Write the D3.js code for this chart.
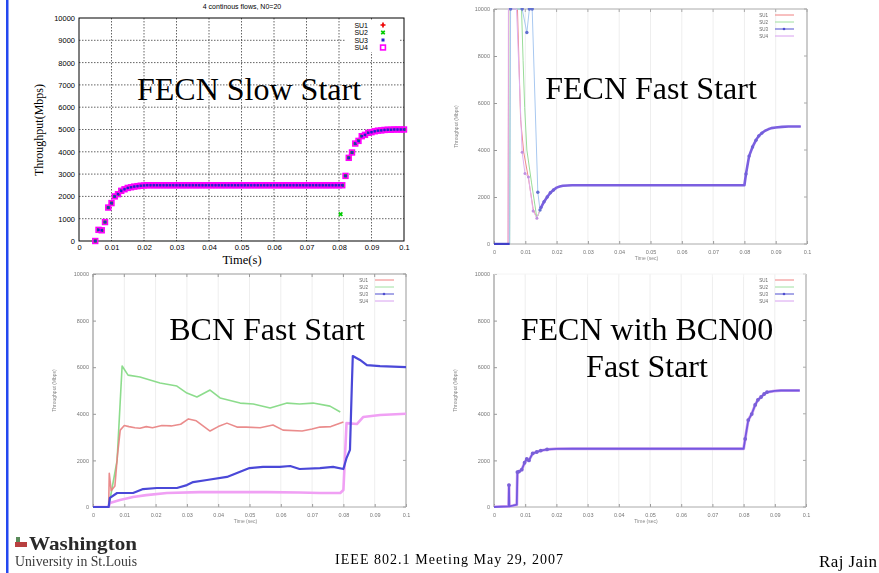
<!DOCTYPE html>
<html>
<head>
<meta charset="utf-8">
<script src="https://cdn.jsdelivr.net/npm/d3@7"></script>
<style>
  body { margin: 0; background: #fff; }
  svg { display: block; }
</style>
</head>
<body>
<div id="main"></div>
<script>
const ctx = {
    WIDTH: 879,
    HEIGHT: 573,
};

// ---- data ----
const xTicks = [0, 0.01, 0.02, 0.03, 0.04, 0.05, 0.06, 0.07, 0.08, 0.09, 0.1];
const xTickLabels = ["0", "0.01", "0.02", "0.03", "0.04", "0.05", "0.06", "0.07", "0.08", "0.09", "0.1"];
const yTicksSlow = [0, 1000, 2000, 3000, 4000, 5000, 6000, 7000, 8000, 9000, 10000];
const yTicksFast = [0, 2000, 4000, 6000, 8000, 10000];
const flowNames = ["SU1", "SU2", "SU3", "SU4"];

// FECN slow start, one sample per ms (SU3 and SU4 coincide)
const slowStart = [
    [0.005, 0], [0.006, 500], [0.007, 480], [0.008, 850], [0.009, 1500],
    [0.010, 1700], [0.011, 2000], [0.012, 2100], [0.013, 2250], [0.014, 2320],
    [0.015, 2380], [0.016, 2410], [0.017, 2440], [0.018, 2460], [0.019, 2480],
    [0.020, 2490], [0.021, 2500], [0.022, 2500], [0.023, 2500], [0.024, 2500],
    [0.025, 2500], [0.026, 2500], [0.027, 2500], [0.028, 2500], [0.029, 2500],
    [0.030, 2500], [0.031, 2500], [0.032, 2500], [0.033, 2500], [0.034, 2500],
    [0.035, 2500], [0.036, 2500], [0.037, 2500], [0.038, 2500], [0.039, 2500],
    [0.040, 2500], [0.041, 2500], [0.042, 2500], [0.043, 2500], [0.044, 2500],
    [0.045, 2500], [0.046, 2500], [0.047, 2500], [0.048, 2500], [0.049, 2500],
    [0.050, 2500], [0.051, 2500], [0.052, 2500], [0.053, 2500], [0.054, 2500],
    [0.055, 2500], [0.056, 2500], [0.057, 2500], [0.058, 2500], [0.059, 2500],
    [0.060, 2500], [0.061, 2500], [0.062, 2500], [0.063, 2500], [0.064, 2500],
    [0.065, 2500], [0.066, 2500], [0.067, 2500], [0.068, 2500], [0.069, 2500],
    [0.070, 2500], [0.071, 2500], [0.072, 2500], [0.073, 2500], [0.074, 2500],
    [0.075, 2500], [0.076, 2500], [0.077, 2500], [0.078, 2500], [0.079, 2500],
    [0.080, 2500], [0.081, 2500], [0.082, 2920], [0.083, 3730], [0.084, 3970],
    [0.085, 4370], [0.086, 4490], [0.087, 4700], [0.088, 4760], [0.089, 4850],
    [0.090, 4880], [0.091, 4920], [0.092, 4950], [0.093, 4960], [0.094, 4980],
    [0.095, 4990], [0.096, 4990], [0.097, 5000], [0.098, 5000], [0.099, 5000],
    [0.100, 5000]
];
const slowSU2Extra = [[0.0805, 1200]];

// FECN fast start: early transients per flow, then a common tail
const fastSU1 = [[0, 0], [0.0045, 0], [0.0047, 10000], [0.0075, 10000], [0.0085, 5300], [0.0095, 3900], [0.011, 2800], [0.0125, 1500], [0.0137, 1100]];
const fastSU2 = [[0, 0], [0.005, 0], [0.0052, 10000], [0.0088, 10000], [0.0093, 7800], [0.0098, 5800], [0.0105, 4000], [0.012, 2600], [0.0137, 1100]];
const fastSU3 = [[0, 0], [0.005, 0], [0.0053, 10000], [0.009, 10000], [0.0105, 9000], [0.0113, 10000], [0.0122, 10000], [0.014, 2200], [0.0147, 1450]];
const fastSU4 = [[0, 0], [0.0045, 0], [0.0046, 10000], [0.0072, 10000], [0.009, 3900], [0.0099, 3000], [0.011, 2850], [0.0125, 1400], [0.0137, 1100]];
const fastTail = [
    [0.015, 1550], [0.016, 1800], [0.017, 2000], [0.018, 2180], [0.019, 2300],
    [0.020, 2400], [0.021, 2450], [0.022, 2480], [0.025, 2500], [0.080, 2500],
    [0.0805, 2980], [0.0815, 3740], [0.0826, 4130], [0.0837, 4420], [0.0846, 4600],
    [0.0856, 4720], [0.0866, 4820], [0.0876, 4880], [0.0886, 4930], [0.090, 4960],
    [0.092, 4985], [0.094, 5000], [0.098, 5000]
];

// BCN fast start
const bcnSU1 = [
    [0, 0], [0.005, 0], [0.0052, 1450], [0.0058, 700], [0.007, 900], [0.0078, 2200],
    [0.0087, 3300], [0.010, 3500], [0.0115, 3450], [0.0134, 3400], [0.015, 3380],
    [0.017, 3450], [0.019, 3400], [0.022, 3500], [0.025, 3480], [0.028, 3550],
    [0.0305, 3780], [0.033, 3700], [0.0374, 3260], [0.040, 3450], [0.0428, 3600],
    [0.046, 3430], [0.049, 3430], [0.0534, 3400], [0.0575, 3520], [0.0607, 3300],
    [0.0668, 3260], [0.070, 3350], [0.0725, 3430], [0.076, 3450], [0.080, 3650]
];
const bcnSU2 = [
    [0, 0], [0.005, 0], [0.0077, 2000], [0.0093, 6050], [0.0112, 5660], [0.015, 5580],
    [0.0214, 5320], [0.0268, 5190], [0.030, 4890], [0.0332, 4720], [0.0374, 5020],
    [0.0406, 4680], [0.047, 4460], [0.0512, 4420], [0.0566, 4250], [0.062, 4460],
    [0.066, 4420], [0.0703, 4460], [0.0757, 4330], [0.079, 4080]
];
const bcnSU3 = [
    [0, 0], [0.005, 0], [0.0054, 390], [0.0077, 600], [0.0109, 600], [0.0128, 600],
    [0.016, 770], [0.0204, 815], [0.0268, 815], [0.030, 940], [0.032, 1070],
    [0.0364, 1160], [0.0428, 1290], [0.046, 1460], [0.050, 1670], [0.0543, 1720],
    [0.0597, 1720], [0.063, 1760], [0.066, 1630], [0.0725, 1670], [0.0767, 1720],
    [0.080, 1630], [0.081, 2100], [0.0821, 2450], [0.0827, 5240], [0.083, 6480],
    [0.0853, 6310], [0.0875, 6090], [0.0917, 6050], [0.100, 6000]
];
const bcnSU4 = [
    [0, 0], [0.005, 0], [0.0054, 170], [0.0086, 300], [0.0128, 430], [0.017, 510],
    [0.0236, 600], [0.034, 640], [0.0556, 640], [0.066, 620], [0.0725, 600],
    [0.079, 600], [0.080, 730], [0.081, 3600], [0.0843, 3560], [0.0863, 3860],
    [0.0917, 3950], [0.100, 4000]
];

// FECN with BCN00 fast start (all four flows coincide)
const bcn00Flow = [
    [0, 0], [0.0047, 30], [0.0048, 940], [0.0049, 30], [0.006, 60], [0.0073, 100],
    [0.0075, 1500], [0.008, 1520], [0.0089, 1600], [0.0098, 1900], [0.0105, 2060],
    [0.0112, 2000], [0.0124, 2300], [0.0137, 2360], [0.015, 2420], [0.017, 2470],
    [0.020, 2495], [0.025, 2500], [0.080, 2500], [0.0805, 2920], [0.0815, 3730],
    [0.0826, 3990], [0.0837, 4380], [0.0846, 4600], [0.0856, 4720], [0.0866, 4850],
    [0.0875, 4930], [0.090, 4980], [0.092, 5000], [0.098, 5000]
];

const panelTitles = [["FECN Slow Start"], ["FECN Fast Start"], ["BCN Fast Start"], ["FECN with BCN00", "Fast Start"]];

const SERIF = "'Liberation Serif', 'Times New Roman', serif";
const SANS = "'Liberation Sans', Arial, sans-serif";

function makeScales(box) {
    return {
        x: d3.scaleLinear().domain([0, 0.1]).range([box.x0, box.x1]),
        y: d3.scaleLinear().domain([0, 10000]).range([box.y1, box.y0]),
    };
}

function addClip(svg, id, box) {
    svg.select("defs").append("clipPath").attr("id", id)
        .append("rect")
        .attr("x", box.x0).attr("y", box.y0 - 1)
        .attr("width", box.x1 - box.x0).attr("height", box.y1 - box.y0 + 2);
}

function drawSlowPanel(svg) {
    const box = { x0: 79, x1: 404, y0: 18, y1: 241 };
    const s = makeScales(box);
    const g = svg.append("g").attr("id", "slowG");

    // dashed grid
    g.append("g").selectAll("line").data(xTicks.slice(1, -1)).enter().append("line")
        .attr("x1", d => s.x(d)).attr("x2", d => s.x(d))
        .attr("y1", box.y0).attr("y2", box.y1)
        .attr("stroke", "#222").attr("stroke-width", 0.7).attr("stroke-dasharray", "1.5,1.5");
    g.append("g").selectAll("line").data(yTicksSlow.slice(1, -1)).enter().append("line")
        .attr("x1", box.x0).attr("x2", box.x1)
        .attr("y1", d => s.y(d)).attr("y2", d => s.y(d))
        .attr("stroke", "#222").attr("stroke-width", 0.7).attr("stroke-dasharray", "1.5,1.5");

    // axes
    const xAxis = d3.axisBottom(s.x).tickValues(xTicks).tickSize(0).tickPadding(4)
        .tickFormat((d, i) => xTickLabels[i]);
    g.append("g").attr("transform", `translate(0,${box.y1})`).call(xAxis)
        .call(a => a.select(".domain").remove())
        .selectAll("text").attr("font-family", SANS).attr("font-size", 7.5).attr("fill", "#000");
    const yAxis = d3.axisLeft(s.y).tickValues(yTicksSlow).tickSize(0).tickPadding(4).tickFormat(d3.format("d"));
    g.append("g").attr("transform", `translate(${box.x0},0)`).call(yAxis)
        .call(a => a.select(".domain").remove())
        .selectAll("text").attr("font-family", SANS).attr("font-size", 7.5).attr("fill", "#000");

    g.append("rect").attr("x", box.x0).attr("y", box.y0)
        .attr("width", box.x1 - box.x0).attr("height", box.y1 - box.y0)
        .attr("fill", "none").attr("stroke", "#000").attr("stroke-width", 1);

    // labels
    g.append("text").attr("x", 242).attr("y", 9).attr("text-anchor", "middle")
        .attr("font-family", SANS).attr("font-size", 7).text("4 continous flows, N0=20");
    g.append("text").attr("x", 242).attr("y", 264).attr("text-anchor", "middle")
        .attr("font-family", SERIF).attr("font-size", 12.5).text("Time(s)");
    g.append("text").attr("transform", "translate(43,130) rotate(-90)").attr("text-anchor", "middle")
        .attr("font-family", SERIF).attr("font-size", 12).text("Throughput(Mbps)");

    // markers
    const plus = d3.symbol().type(d3.symbolCross).size(14);
    const marks = g.append("g");
    marks.selectAll(".su1").data(slowStart).enter().append("path")
        .attr("d", plus).attr("fill", "#e00")
        .attr("transform", d => `translate(${s.x(d[0])},${s.y(d[1])})`);
    marks.selectAll(".su2").data(slowStart.concat(slowSU2Extra)).enter().append("path")
        .attr("d", plus).attr("fill", "#0c0")
        .attr("transform", d => `translate(${s.x(d[0])},${s.y(d[1])}) rotate(45)`);
    marks.selectAll(".su4").data(slowStart).enter().append("rect")
        .attr("x", d => s.x(d[0]) - 2.4).attr("y", d => s.y(d[1]) - 2.4)
        .attr("width", 4.8).attr("height", 4.8)
        .attr("fill", "none").attr("stroke", "#f0f").attr("stroke-width", 1.6);
    marks.selectAll(".su3").data(slowStart).enter().append("rect")
        .attr("x", d => s.x(d[0]) - 1.2).attr("y", d => s.y(d[1]) - 1.2)
        .attr("width", 2.4).attr("height", 2.4).attr("fill", "#22c");

    // legend
    const legend = g.append("g");
    legend.append("rect").attr("x", 345).attr("y", 20).attr("width", 55).attr("height", 32).attr("fill", "#fff");
    const rows = [25, 32.5, 40, 47.5];
    flowNames.forEach((name, i) => {
        legend.append("text").attr("x", 368).attr("y", rows[i] + 2.5).attr("text-anchor", "end")
            .attr("font-family", SANS).attr("font-size", 7).text(name);
    });
    legend.append("path").attr("d", plus).attr("fill", "#e00").attr("transform", `translate(383,${rows[0]})`);
    legend.append("path").attr("d", plus).attr("fill", "#0c0").attr("transform", `translate(383,${rows[1]}) rotate(45)`);
    legend.append("rect").attr("x", 381.5).attr("y", rows[2] - 1.5).attr("width", 3).attr("height", 3).attr("fill", "#22c");
    legend.append("rect").attr("x", 380.6).attr("y", rows[3] - 2.4).attr("width", 4.8).attr("height", 4.8)
        .attr("fill", "none").attr("stroke", "#f0f").attr("stroke-width", 1.6);

    bigTitle(svg, panelTitles[0], 249, [100]);
}

// common frame for the three blurry gnuplot panels
function drawFastFrame(svg, box, opts) {
    const s = makeScales(box);
    const g = svg.append("g");

    g.append("g").selectAll("line").data(xTicks.slice(1, -1)).enter().append("line")
        .attr("x1", d => s.x(d)).attr("x2", d => s.x(d))
        .attr("y1", box.y0).attr("y2", box.y1)
        .attr("stroke", "#eee").attr("stroke-width", 1);

    const soft = g.append("g").attr("filter", "url(#soft)");
    const xAxis = d3.axisBottom(s.x).tickValues(xTicks).tickSizeInner(-3).tickSizeOuter(0).tickPadding(6)
        .tickFormat((d, i) => xTickLabels[i]);
    soft.append("g").attr("transform", `translate(0,${box.y1})`).call(xAxis)
        .call(a => a.select(".domain").remove())
        .call(a => a.selectAll("line").attr("stroke", "#999"))
        .selectAll("text").attr("font-family", SANS).attr("font-size", 5.5).attr("fill", "#777");
    const yAxis = d3.axisLeft(s.y).tickValues(yTicksFast).tickSizeInner(-3).tickSizeOuter(0).tickPadding(4)
        .tickFormat(d3.format("d"));
    soft.append("g").attr("transform", `translate(${box.x0},0)`).call(yAxis)
        .call(a => a.select(".domain").remove())
        .call(a => a.selectAll("line").attr("stroke", "#999"))
        .selectAll("text").attr("font-family", SANS).attr("font-size", 5.5).attr("fill", "#777");
    // mirrored ticks
    soft.append("g").selectAll("line").data(xTicks).enter().append("line")
        .attr("x1", d => s.x(d)).attr("x2", d => s.x(d))
        .attr("y1", box.y0).attr("y2", box.y0 + 3).attr("stroke", opts.topColor);
    soft.append("g").selectAll("line").data(yTicksFast).enter().append("line")
        .attr("x1", box.x1).attr("x2", box.x1 - 3)
        .attr("y1", d => s.y(d)).attr("y2", d => s.y(d)).attr("stroke", "#aaa");

    soft.append("text").attr("x", (box.x0 + box.x1) / 2 - 4).attr("y", box.y1 + 16).attr("text-anchor", "middle")
        .attr("font-family", SANS).attr("font-size", 5).attr("fill", "#888").text("Time (sec)");
    soft.append("text").attr("transform", `translate(${opts.yLabelX},${(box.y0 + box.y1) / 2}) rotate(-90)`)
        .attr("text-anchor", "middle")
        .attr("font-family", SANS).attr("font-size", 5).attr("fill", "#888").text("Throughput (Mbps)");

    // frame
    g.append("line").attr("x1", box.x0).attr("x2", box.x0).attr("y1", box.y0).attr("y2", box.y1).attr("stroke", "#999").attr("stroke-width", 1.2);
    g.append("line").attr("x1", box.x0).attr("x2", box.x1).attr("y1", box.y1).attr("y2", box.y1).attr("stroke", "#aaa");
    g.append("line").attr("x1", box.x1).attr("x2", box.x1).attr("y1", box.y0).attr("y2", box.y1).attr("stroke", "#aaa").attr("stroke-width", 1.2);
    g.append("line").attr("x1", box.x0).attr("x2", box.x1).attr("y1", box.y0).attr("y2", box.y0).attr("stroke", opts.topColor);

    // legend
    const lg = g.append("g").attr("filter", "url(#soft)");
    const colors = ["#f08080", "#a0e0a0", "#5050d0", "#d8a0f0"];
    flowNames.forEach((name, i) => {
        const y = opts.legendY + i * 7;
        lg.append("text").attr("x", opts.legendX).attr("y", y + 1.5).attr("text-anchor", "end")
            .attr("font-family", SANS).attr("font-size", 4.5).attr("fill", "#666").text(name);
        lg.append("line").attr("x1", opts.legendX + 7).attr("x2", opts.legendX + 26)
            .attr("y1", y).attr("y2", y).attr("stroke", colors[i]).attr("stroke-width", 1);
        if (i === 2) lg.append("circle").attr("cx", opts.legendX + 16).attr("cy", y).attr("r", 1.3).attr("fill", colors[i]);
    });
    return { g: g, s: s };
}

function drawSeries(g, s, data, color, width, clipId, opacity) {
    const line = d3.line().x(d => s.x(d[0])).y(d => s.y(d[1]));
    g.append("path").datum(data)
        .attr("d", line).attr("fill", "none")
        .attr("stroke", color).attr("stroke-width", width)
        .attr("stroke-linejoin", "round")
        .attr("opacity", opacity === undefined ? 1 : opacity)
        .attr("clip-path", `url(#${clipId})`);
}

function drawDots(g, s, data, color, r, clipId) {
    g.append("g").attr("clip-path", `url(#${clipId})`)
        .selectAll("circle").data(data).enter().append("circle")
        .attr("cx", d => s.x(d[0])).attr("cy", d => s.y(d[1]))
        .attr("r", r).attr("fill", color);
}

function drawFastStart(svg) {
    const box = { x0: 494, x1: 807, y0: 9, y1: 244 };
    addClip(svg, "clip2", box);
    const p = drawFastFrame(svg, box, { yLabelX: 458, legendX: 768, legendY: 15, topColor: "#aaa" });
    drawSeries(p.g, p.s, fastSU1.concat(fastTail), "#f08a8a", 1, "clip2");
    drawSeries(p.g, p.s, fastSU2.concat(fastTail), "#98dc98", 1, "clip2");
    drawSeries(p.g, p.s, fastSU3.concat(fastTail), "#a8c8f0", 1, "clip2");
    drawSeries(p.g, p.s, fastSU4.concat(fastTail), "#e0b0f0", 1, "clip2");
    drawSeries(p.g, p.s, fastTail, "#7b5fe0", 2.6, "clip2");
    drawSeries(p.g, p.s, fastSU3.slice(0, 2), "#4040c8", 2.4, "clip2");
    drawDots(p.g, p.s, fastSU3.slice(2), "#6070d0", 1.7, "clip2");
    drawDots(p.g, p.s, fastSU4.slice(4), "#c090e0", 1.5, "clip2");
    drawDots(p.g, p.s, fastTail.slice(0, 5).concat(fastTail.slice(10, 16)), "#7060d8", 1.7, "clip2");
    bigTitle(svg, panelTitles[1], 651, [99]);
}

function drawBcn(svg) {
    const box = { x0: 93, x1: 406, y0: 274, y1: 507 };
    addClip(svg, "clip3", box);
    const p = drawFastFrame(svg, box, { yLabelX: 56, legendX: 368, legendY: 280, topColor: "#999" });
    drawSeries(p.g, p.s, bcnSU2, "#80d880", 1.6, "clip3", 0.9);
    drawSeries(p.g, p.s, bcnSU1, "#e88080", 1.6, "clip3", 0.9);
    drawSeries(p.g, p.s, bcnSU4, "#f0a0f4", 2.6, "clip3");
    drawSeries(p.g, p.s, bcnSU3, "#4a48d8", 2.2, "clip3");
    bigTitle(svg, panelTitles[2], 267, [340]);
}

function drawBcn00(svg) {
    const box = { x0: 494, x1: 806, y0: 274, y1: 507 };
    addClip(svg, "clip4", box);
    const p = drawFastFrame(svg, box, { yLabelX: 457, legendX: 768, legendY: 280, topColor: "#f4f4f4" });
    drawSeries(p.g, p.s, bcn00Flow, "#d8a8f0", 3, "clip4");
    drawSeries(p.g, p.s, bcn00Flow, "#7458e0", 1.8, "clip4");
    drawDots(p.g, p.s, bcn00Flow.slice(2, 3).concat(bcn00Flow.slice(6, 16), bcn00Flow.slice(19, 27)), "#7a60d8", 1.9, "clip4");
    bigTitle(svg, panelTitles[3], 647, [340, 377]);
}

function bigTitle(svg, lines, cx, baselines) {
    lines.forEach((t, i) => {
        svg.append("text").attr("x", cx).attr("y", baselines[i])
            .attr("text-anchor", "middle")
            .attr("font-family", SERIF).attr("font-size", 32).attr("fill", "#000")
            .text(t);
    });
}

function drawFooter(svg) {
    svg.append("rect").attr("x", 6).attr("y", 0).attr("width", 2.5).attr("height", ctx.HEIGHT).attr("fill", "#2448f0");

    // university logo
    const logo = svg.append("g");
    logo.append("rect").attr("x", 16).attr("y", 537).attr("width", 4).attr("height", 6).attr("fill", "#5a8a5a");
    logo.append("rect").attr("x", 15).attr("y", 542).attr("width", 12).attr("height", 5).attr("fill", "#b84040");
    logo.append("text").attr("x", 29).attr("y", 550).attr("textLength", 108).attr("lengthAdjust", "spacingAndGlyphs")
        .attr("font-family", SERIF).attr("font-size", 19).attr("font-weight", "bold").attr("fill", "#2a2a2a").text("Washington");
    logo.append("text").attr("x", 15).attr("y", 566).attr("textLength", 122).attr("lengthAdjust", "spacingAndGlyphs")
        .attr("font-family", SERIF).attr("font-size", 14).attr("fill", "#3a3a3a").text("University in St.Louis");

    svg.append("text").attr("x", 335).attr("y", 564).attr("textLength", 228)
        .attr("font-family", SERIF).attr("font-size", 14).attr("fill", "#000")
        .text("IEEE 802.1 Meeting  May 29, 2007");
    svg.append("text").attr("x", 819).attr("y", 567).attr("textLength", 58)
        .attr("font-family", SERIF).attr("font-size", 17).attr("fill", "#000")
        .text("Raj Jain");
}

function createViz() {
    const svgEl = d3.select("#main").append("svg")
        .attr("width", ctx.WIDTH).attr("height", ctx.HEIGHT)
        .style("background", "#fff");
    svgEl.append("defs").append("filter").attr("id", "soft")
        .append("feGaussianBlur").attr("stdDeviation", 0.45);
    drawSlowPanel(svgEl);
    drawFastStart(svgEl);
    drawBcn(svgEl);
    drawBcn00(svgEl);
    drawFooter(svgEl);
}

createViz();
</script>
</body>
</html>
